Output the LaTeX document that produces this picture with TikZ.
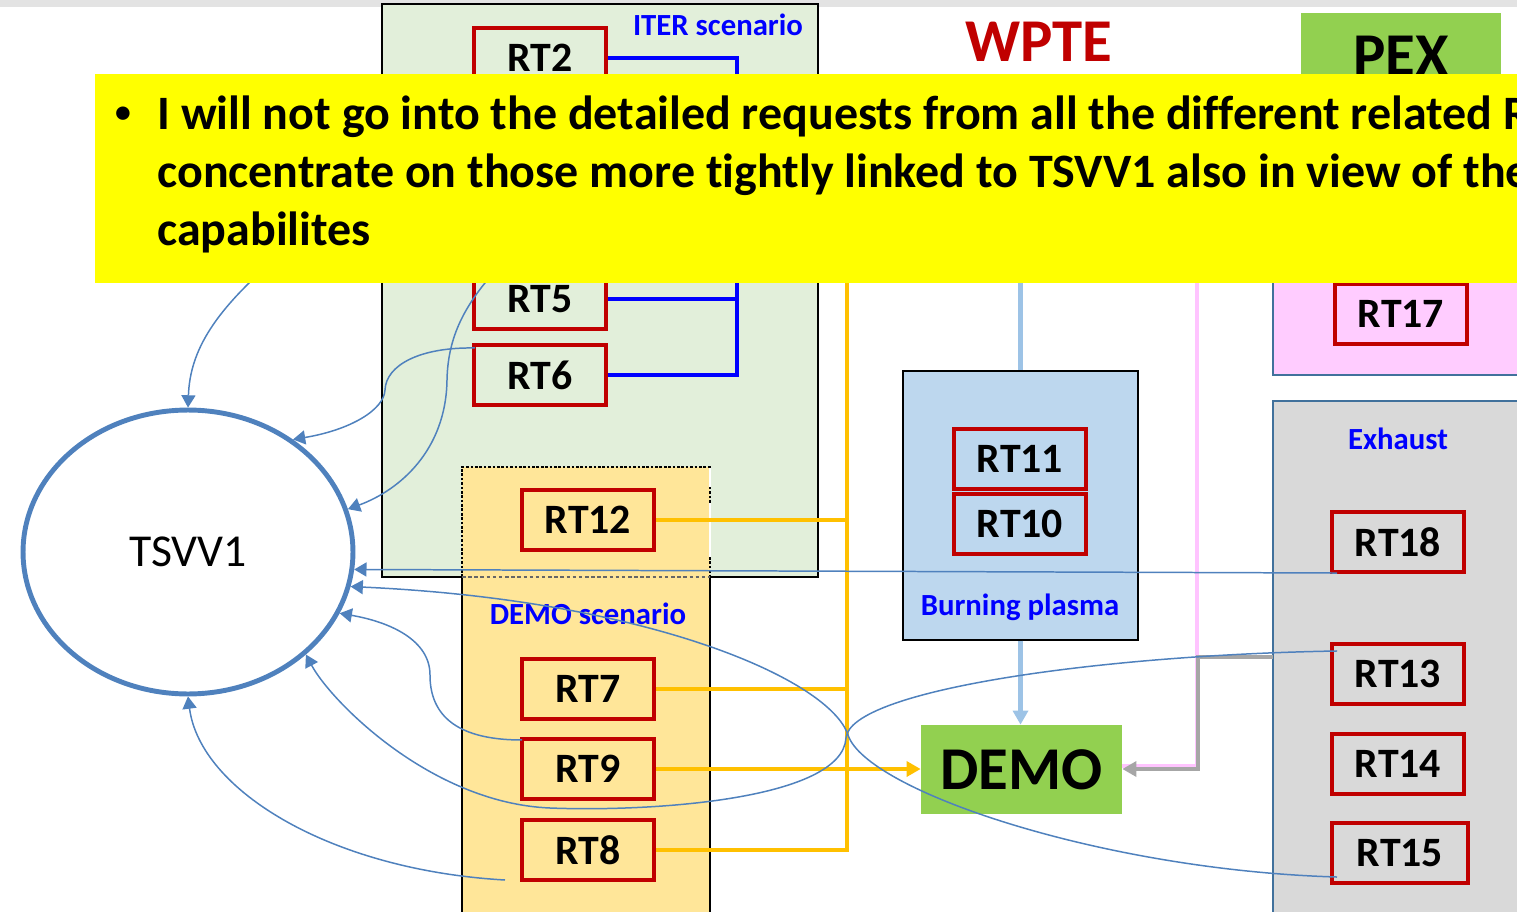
\documentclass[tikz,border=0pt]{standalone}
\usepackage{fontspec}
\setmainfont[Ligatures=NoCommon]{Carlito}
\usetikzlibrary{arrows.meta,calc,shapes.geometric}

\definecolor{iterfill}{HTML}{E2EFDA}
\definecolor{demofill}{HTML}{FFE699}
\definecolor{bpfill}{HTML}{BDD7EE}
\definecolor{pinkfill}{HTML}{FFCCFF}
\definecolor{exhfill}{HTML}{D9D9D9}
\definecolor{leaf}{HTML}{92D050}
\definecolor{rtred}{HTML}{C00000}
\definecolor{steel}{HTML}{4F81BD}
\definecolor{amber}{HTML}{FFC000}
\definecolor{skyline}{HTML}{9DC3E6}
\definecolor{greyline}{HTML}{A6A6A6}
\definecolor{slate}{HTML}{41719C}
\definecolor{band}{HTML}{E3E3E3}
\definecolor{pinkrule}{HTML}{FFC4FF}
\definecolor{notebg}{HTML}{FFFF00}

\tikzset{
  rt/.style={draw=rtred, line width=2.3pt, minimum width=2.64cm, minimum height=1.2cm,
    inner sep=0pt, font=\fontsize{23.8}{28}\selectfont\bfseries},
  tag/.style={text=blue, font=\fontsize{17.5}{21}\selectfont\bfseries, inner sep=0pt},
  big/.style={font=\fontsize{34.6}{40}\selectfont\bfseries, inner sep=0pt},
  link/.style={steel, line width=0.85pt, -{Triangle[length=7pt,width=8pt]}},
  bus/.style={line width=2.4pt},
  fatarrow/.style={-{Triangle[length=8pt,width=8.5pt]}},
  notefont/.style={font=\fontsize{27.3}{32.6}\selectfont\bfseries, inner sep=0pt},
}

\begin{document}
\begin{tikzpicture}[x=0.02cm,y=-0.02cm]
\useasboundingbox (0,0) rectangle (1517,912);
\fill[band] (0,0) rectangle (1517,7);

% ITER scenario panel
\filldraw[fill=iterfill, draw=black, line width=0.8pt] (382,4) rectangle (818,577);
\node[tag, anchor=base] at (718,36) {ITER scenario};

% DEMO scenario panel
\fill[demofill] (462,467) rectangle (710,930);
\draw[line width=0.7pt] (462,930) -- (462,577) (710,577) -- (710,930);
\draw[line width=0.6pt, dash pattern=on 1.5pt off 1pt] (462,577) -- (462,467) -- (710,467) -- (710,577);
\draw[line width=0.6pt, black!60, dash pattern=on 2pt off 1.5pt] (462,577) -- (710,577);
\draw[white, line width=1.6pt] (710,468) -- (710,487) (710,503) -- (710,518) (710,522) -- (710,557);
\node[tag, anchor=base] at (588,624) {DEMO scenario};

% work-package titles
\node[big, text=rtred, anchor=base] (wpte) at (1039,62) {WPTE};
\fill[leaf] (1301,13) rectangle (1501,110);
\node[big, anchor=base] (pex) at (1401,76) {PEX};

% PEX sub-panels
\filldraw[fill=pinkfill, draw=slate, line width=0.8pt] (1273,230) rectangle (1530,375);
\filldraw[fill=exhfill, draw=slate, line width=0.8pt] (1273,401) rectangle (1530,930);
\node[tag, anchor=base] at (1398,449) {Exhaust};

% Burning plasma panel
\node[draw=black, fill=bpfill, line width=0.8pt, minimum width=4.7cm, minimum height=5.38cm,
  inner sep=0pt] (bp) at (1020.5,505.5) {};
\node[tag, anchor=base] at (1020,615) {Burning plasma};

% research topics
\node[rt] (rt2) at (540,58) {RT2};
\node[rt] (rt5) at (540,299) {RT5};
\node[rt] (rt6) at (540,375) {RT6};
\node[rt] (rt12) at (588,520) {RT12};
\node[rt] (rt7) at (588,689) {RT7};
\node[rt] (rt9) at (588,769) {RT9};
\node[rt] (rt8) at (588,850) {RT8};
\node[rt] (rt11) at (1020,459) {RT11};
\node[rt] (rt10) at (1020,524) {RT10};
\node[rt] (rt17) at (1401,314) {RT17};
\node[rt] (rt18) at (1398,542) {RT18};
\node[rt] (rt13) at (1398,674) {RT13};
\node[rt] (rt14) at (1398,764) {RT14};
\node[rt, minimum width=2.72cm] (rt15) at (1400,853) {RT15};

% DEMO and TSVV1
\node[big, fill=leaf, minimum width=4.02cm, minimum height=1.78cm] (demo) at (1021.5,769.5) {DEMO};
\node[ellipse, draw=steel, line width=2.8pt, minimum width=6.6cm, minimum height=5.68cm,
  font=\fontsize{26}{30}\selectfont] (tsvv) at (188,552) {TSVV1};

% ITER scenario bus
\coordinate (ibus) at (737,58);
\draw[blue, bus] (rt2.east) -- (ibus) -- (ibus |- rt6.east) -- (rt6.east);
\draw[blue, bus] (rt5.east) -- (rt5.east -| ibus);

% DEMO scenario bus
\coordinate (otop) at (847,260);
\draw[amber, bus] (otop) |- (rt8.east);
\draw[amber, bus] (rt12.east) -- (rt12.east -| otop);
\draw[amber, bus] (rt7.east) -- (rt7.east -| otop);
\draw[amber, bus, fatarrow] (rt9.east) -- (rt9.east -| demo.west);

% burning plasma feed
\coordinate (sktop) at (1020.5,260);
\draw[skyline, line width=2.8pt] (sktop) -- (bp.north);
\draw[skyline, line width=2.8pt, fatarrow] (bp.south) -- (bp.south |- demo.north);

% PEX feeds
\coordinate (pktop) at (1197,260);
\coordinate (pkcorner) at (1197,766);
\draw[pinkrule, line width=2.4pt] (pktop) -- (pkcorner) -- (pkcorner -| demo.east);
\coordinate (gyin) at (1273,657);
\coordinate (gycorner) at (1198,769);
\draw[greyline, line width=2.8pt, fatarrow] (gyin) -| (gycorner) -- (gycorner -| demo.east);

% links into TSVV1
\coordinate (src1) at (280,255);
\coordinate (src3) at (515,250);
\coordinate (rt8tail) at (505,880);
\draw[link] (src1) .. controls (215,310) and (190,350) .. (tsvv.north);
\draw[link] ($(rt6.north west)+(3,5)$) .. controls (420,347) and (386,365) .. (385,390)
  .. controls (384,410) and (350,430) .. (tsvv.47);
\draw[link] (src3) .. controls (470,295) and (448,330) .. (447,380)
  .. controls (446,450) and (400,490) .. (tsvv.15);
\draw[link] ($(rt18.south west)+(7,-1)$) -- (tsvv.-6);
\draw[link] ($(rt15.south west)+(7,-8)$) .. controls (1100,870) and (866,790) .. (848,735)
  .. controls (830,680) and (650,600) .. (tsvv.-12);
\draw[link] ($(rt9.north west)+(2,3)$) .. controls (450,740) and (430,710) .. (430,675)
  .. controls (430,640) and (390,622) .. (tsvv.-22);
\draw[link] ($(rt13.north west)+(7,9)$) .. controls (1100,655) and (850,690) .. (846,738)
  .. controls (842,800) and (650,812) .. (550,808)
  .. controls (430,803) and (330,700) .. (tsvv.-41);
\draw[link] (rt8tail) .. controls (330,870) and (200,790) .. (tsvv.south);

% note banner
\fill[notebg] (95,74) rectangle (1530,283);
\node[font=\fontsize{18}{20}\selectfont\bfseries, inner sep=0pt, anchor=base] (bullet) at (123,122.5) {\textbullet};
\node[notefont, anchor=base west] (note1) at (157,130)
  {I will not go into the detailed requests from all the different related R};
\node[notefont, anchor=base west] (note2) at (157,187.5)
  {concentrate on those more tightly linked to TSVV1 also in view of the};
\node[notefont, anchor=base west] (note3) at (157,245) {capabilites};
\end{tikzpicture}
\end{document}
